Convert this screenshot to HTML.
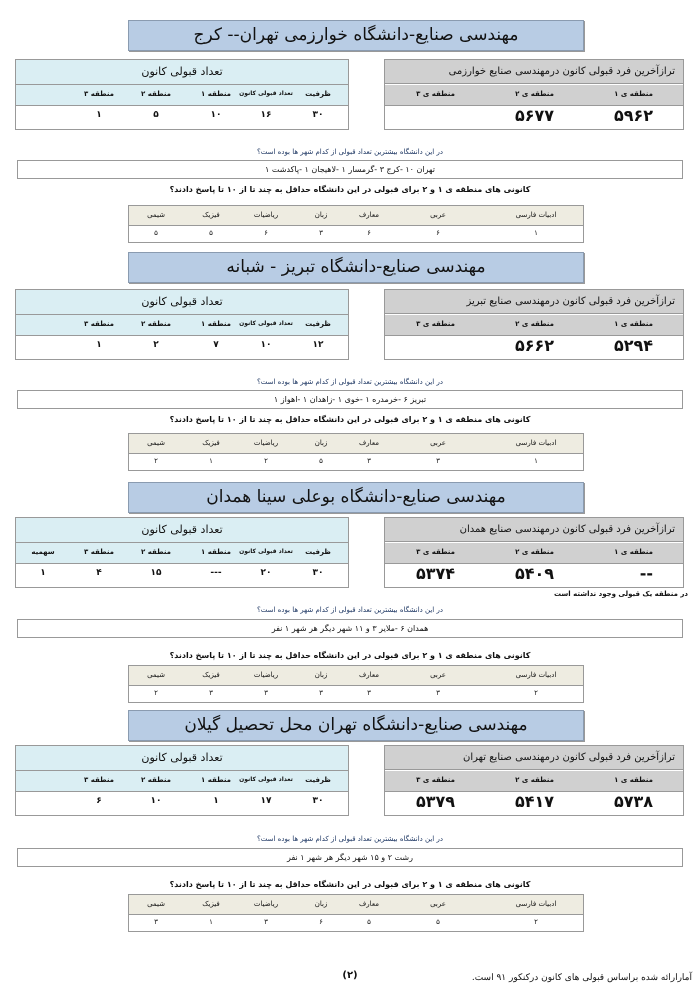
<!DOCTYPE html>
<html><head><meta charset="utf-8"><style>
body{margin:0;width:700px;height:991px;background:#fff;position:relative;overflow:hidden;font-family:"DejaVu Sans","Liberation Sans",sans-serif;color:#111}
.a{position:absolute}
.c{position:absolute;transform:translateX(-50%);white-space:nowrap;direction:rtl}
.r{position:absolute;white-space:nowrap;direction:rtl}
.title{position:absolute;left:128px;width:454px;height:29px;background:#b8cce4;border:1px solid #8a9bb0;box-shadow:1px 1px 0 #999;text-align:center;font-size:17px;line-height:29px;direction:rtl}
.lt{position:absolute;left:15px;width:332px;height:69px;border:1px solid #999;background:#fff}
.rt{position:absolute;left:384px;width:298px;height:69px;border:1px solid #999;background:#fff}
.st{position:absolute;left:128px;width:454px;height:36px;border:1px solid #999;background:#fff}
.box{position:absolute;left:17px;width:664px;height:17px;border:1px solid #999;background:#fff;text-align:center;font-size:8px;line-height:17px;direction:rtl}
.q1{position:absolute;left:0;width:700px;text-align:center;font-size:7px;color:#1f3864;direction:rtl}
.q2{position:absolute;left:0;width:700px;text-align:center;font-size:8px;font-weight:bold;direction:rtl}
.h{font-size:7px;font-weight:bold}
.v{font-size:9px;font-weight:bold}
.big{font-size:16px;font-weight:bold}
.s{font-size:7px}
</style></head><body>

<!-- BLOCK TEMPLATE rendered 4 times -->
<!-- Block 1 T=20 -->
<div class="title" style="top:20px">مهندسی صنایع-دانشگاه خوارزمی تهران-- کرج</div>
<div class="lt" style="top:59px"><div class="a" style="left:0;top:0;width:332px;height:24px;background:#daeef3;border-bottom:1px solid #999;text-align:center;font-size:11px;line-height:24px">تعداد قبولی کانون</div><div class="a" style="left:0;top:25px;width:332px;height:20px;background:#daeef3;border-bottom:1px solid #999"></div>
<span class="c h" style="left:302px;top:30px">ظرفیت</span><span class="c h" style="left:250px;top:30px;font-size:6px">تعداد قبولی کانون</span><span class="c h" style="left:200px;top:30px">منطقه ۱</span><span class="c h" style="left:140px;top:30px">منطقه ۲</span><span class="c h" style="left:83px;top:30px">منطقه ۳</span>
<span class="c v" style="left:302px;top:50px">۳۰</span><span class="c v" style="left:250px;top:50px">۱۶</span><span class="c v" style="left:200px;top:50px">۱۰</span><span class="c v" style="left:140px;top:50px">۵</span><span class="c v" style="left:83px;top:50px">۱</span></div>
<div class="rt" style="top:59px"><div class="a" style="left:0;top:0;width:298px;height:24px;background:#d0d0d0;border-bottom:1px solid #999;text-align:right;padding-right:8px;box-sizing:border-box;font-size:10px;line-height:24px;direction:rtl">ترازآخرین فرد قبولی کانون درمهندسی صنایع خوارزمی</div><div class="a" style="left:0;top:25px;width:298px;height:20px;background:#d0d0d0;border-bottom:1px solid #999"></div>
<span class="r h" style="right:30px;top:30px">منطقه ی ۱</span><span class="r h" style="right:129px;top:30px">منطقه ی ۲</span><span class="r h" style="right:228px;top:30px">منطقه ی ۳</span>
<span class="r big" style="right:30px;top:46px">۵۹۶۲</span><span class="r big" style="right:129px;top:46px">۵۶۷۷</span></div>
<div class="q1" style="top:148px">در این دانشگاه بیشترین تعداد قبولی از کدام شهر ها بوده است؟</div>
<div class="box" style="top:160px">تهران ۱۰ -کرج ۳ -گرمسار ۱ -لاهیجان ۱ -پاکدشت ۱</div>
<div class="q2" style="top:185px">کانونی های منطقه ی ۱ و ۲ برای قبولی در این دانشگاه حداقل به چند تا از ۱۰ تا پاسخ دادند؟</div>
<div class="st" style="top:205px"><div class="a" style="left:0;top:0;width:454px;height:19px;background:#eeece1;border-bottom:1px solid #999"></div>
<span class="c s" style="left:407px;top:5px">ادبیات فارسی</span><span class="c s" style="left:309px;top:5px">عربی</span><span class="c s" style="left:240px;top:5px">معارف</span><span class="c s" style="left:192px;top:5px">زبان</span><span class="c s" style="left:137px;top:5px">ریاضیات</span><span class="c s" style="left:82px;top:5px">فیزیک</span><span class="c s" style="left:27px;top:5px">شیمی</span>
<span class="c s" style="left:407px;top:23px">۱</span><span class="c s" style="left:309px;top:23px">۶</span><span class="c s" style="left:240px;top:23px">۶</span><span class="c s" style="left:192px;top:23px">۳</span><span class="c s" style="left:137px;top:23px">۶</span><span class="c s" style="left:82px;top:23px">۵</span><span class="c s" style="left:27px;top:23px">۵</span></div>

<!-- Block 2 T=252 -->
<div class="title" style="top:252px">مهندسی صنایع-دانشگاه تبریز - شبانه</div>
<div class="lt" style="top:289px"><div class="a" style="left:0;top:0;width:332px;height:24px;background:#daeef3;border-bottom:1px solid #999;text-align:center;font-size:11px;line-height:24px">تعداد قبولی کانون</div><div class="a" style="left:0;top:25px;width:332px;height:20px;background:#daeef3;border-bottom:1px solid #999"></div>
<span class="c h" style="left:302px;top:30px">ظرفیت</span><span class="c h" style="left:250px;top:30px;font-size:6px">تعداد قبولی کانون</span><span class="c h" style="left:200px;top:30px">منطقه ۱</span><span class="c h" style="left:140px;top:30px">منطقه ۲</span><span class="c h" style="left:83px;top:30px">منطقه ۳</span>
<span class="c v" style="left:302px;top:50px">۱۲</span><span class="c v" style="left:250px;top:50px">۱۰</span><span class="c v" style="left:200px;top:50px">۷</span><span class="c v" style="left:140px;top:50px">۲</span><span class="c v" style="left:83px;top:50px">۱</span></div>
<div class="rt" style="top:289px"><div class="a" style="left:0;top:0;width:298px;height:24px;background:#d0d0d0;border-bottom:1px solid #999;text-align:right;padding-right:8px;box-sizing:border-box;font-size:10px;line-height:24px;direction:rtl">ترازآخرین فرد قبولی کانون درمهندسی صنایع تبریز</div><div class="a" style="left:0;top:25px;width:298px;height:20px;background:#d0d0d0;border-bottom:1px solid #999"></div>
<span class="r h" style="right:30px;top:30px">منطقه ی ۱</span><span class="r h" style="right:129px;top:30px">منطقه ی ۲</span><span class="r h" style="right:228px;top:30px">منطقه ی ۳</span>
<span class="r big" style="right:30px;top:46px">۵۲۹۴</span><span class="r big" style="right:129px;top:46px">۵۶۶۲</span></div>
<div class="q1" style="top:378px">در این دانشگاه بیشترین تعداد قبولی از کدام شهر ها بوده است؟</div>
<div class="box" style="top:390px">تبریز ۶ -خرمدره ۱ -خوی ۱ -زاهدان ۱ -اهواز ۱</div>
<div class="q2" style="top:415px">کانونی های منطقه ی ۱ و ۲ برای قبولی در این دانشگاه حداقل به چند تا از ۱۰ تا پاسخ دادند؟</div>
<div class="st" style="top:433px"><div class="a" style="left:0;top:0;width:454px;height:19px;background:#eeece1;border-bottom:1px solid #999"></div>
<span class="c s" style="left:407px;top:5px">ادبیات فارسی</span><span class="c s" style="left:309px;top:5px">عربی</span><span class="c s" style="left:240px;top:5px">معارف</span><span class="c s" style="left:192px;top:5px">زبان</span><span class="c s" style="left:137px;top:5px">ریاضیات</span><span class="c s" style="left:82px;top:5px">فیزیک</span><span class="c s" style="left:27px;top:5px">شیمی</span>
<span class="c s" style="left:407px;top:23px">۱</span><span class="c s" style="left:309px;top:23px">۳</span><span class="c s" style="left:240px;top:23px">۳</span><span class="c s" style="left:192px;top:23px">۵</span><span class="c s" style="left:137px;top:23px">۲</span><span class="c s" style="left:82px;top:23px">۱</span><span class="c s" style="left:27px;top:23px">۲</span></div>

<!-- Block 3 T=482 -->
<div class="title" style="top:482px">مهندسی صنایع-دانشگاه بوعلی سینا  همدان</div>
<div class="lt" style="top:517px"><div class="a" style="left:0;top:0;width:332px;height:24px;background:#daeef3;border-bottom:1px solid #999;text-align:center;font-size:11px;line-height:24px">تعداد قبولی کانون</div><div class="a" style="left:0;top:25px;width:332px;height:20px;background:#daeef3;border-bottom:1px solid #999"></div>
<span class="c h" style="left:302px;top:30px">ظرفیت</span><span class="c h" style="left:250px;top:30px;font-size:6px">تعداد قبولی کانون</span><span class="c h" style="left:200px;top:30px">منطقه ۱</span><span class="c h" style="left:140px;top:30px">منطقه ۲</span><span class="c h" style="left:83px;top:30px">منطقه ۳</span><span class="c h" style="left:27px;top:30px">سهمیه</span>
<span class="c v" style="left:302px;top:50px">۳۰</span><span class="c v" style="left:250px;top:50px">۲۰</span><span class="c v" style="left:200px;top:50px">---</span><span class="c v" style="left:140px;top:50px">۱۵</span><span class="c v" style="left:83px;top:50px">۴</span><span class="c v" style="left:27px;top:50px">۱</span></div>
<div class="rt" style="top:517px"><div class="a" style="left:0;top:0;width:298px;height:24px;background:#d0d0d0;border-bottom:1px solid #999;text-align:right;padding-right:8px;box-sizing:border-box;font-size:10px;line-height:24px;direction:rtl">ترازآخرین فرد قبولی کانون درمهندسی صنایع همدان</div><div class="a" style="left:0;top:25px;width:298px;height:20px;background:#d0d0d0;border-bottom:1px solid #999"></div>
<span class="r h" style="right:30px;top:30px">منطقه ی ۱</span><span class="r h" style="right:129px;top:30px">منطقه ی ۲</span><span class="r h" style="right:228px;top:30px">منطقه ی ۳</span>
<span class="r big" style="right:30px;top:46px">--</span><span class="r big" style="right:129px;top:46px">۵۴۰۹</span><span class="r big" style="right:228px;top:46px">۵۳۷۴</span></div>
<div class="r" style="right:12px;top:590px;font-size:7px;font-weight:bold">در منطقه یک قبولی وجود نداشته است</div>
<div class="q1" style="top:606px">در این دانشگاه بیشترین تعداد قبولی از کدام شهر ها بوده است؟</div>
<div class="box" style="top:619px">همدان ۶ -ملایر ۳ و ۱۱ شهر دیگر هر شهر ۱ نفر</div>
<div class="q2" style="top:651px">کانونی های منطقه ی ۱ و ۲ برای قبولی در این دانشگاه حداقل به چند تا از ۱۰ تا پاسخ دادند؟</div>
<div class="st" style="top:665px"><div class="a" style="left:0;top:0;width:454px;height:19px;background:#eeece1;border-bottom:1px solid #999"></div>
<span class="c s" style="left:407px;top:5px">ادبیات فارسی</span><span class="c s" style="left:309px;top:5px">عربی</span><span class="c s" style="left:240px;top:5px">معارف</span><span class="c s" style="left:192px;top:5px">زبان</span><span class="c s" style="left:137px;top:5px">ریاضیات</span><span class="c s" style="left:82px;top:5px">فیزیک</span><span class="c s" style="left:27px;top:5px">شیمی</span>
<span class="c s" style="left:407px;top:23px">۲</span><span class="c s" style="left:309px;top:23px">۳</span><span class="c s" style="left:240px;top:23px">۳</span><span class="c s" style="left:192px;top:23px">۳</span><span class="c s" style="left:137px;top:23px">۳</span><span class="c s" style="left:82px;top:23px">۳</span><span class="c s" style="left:27px;top:23px">۲</span></div>

<!-- Block 4 T=710 -->
<div class="title" style="top:710px">مهندسی صنایع-دانشگاه تهران محل تحصیل گیلان</div>
<div class="lt" style="top:745px"><div class="a" style="left:0;top:0;width:332px;height:24px;background:#daeef3;border-bottom:1px solid #999;text-align:center;font-size:11px;line-height:24px">تعداد قبولی کانون</div><div class="a" style="left:0;top:25px;width:332px;height:20px;background:#daeef3;border-bottom:1px solid #999"></div>
<span class="c h" style="left:302px;top:30px">ظرفیت</span><span class="c h" style="left:250px;top:30px;font-size:6px">تعداد قبولی کانون</span><span class="c h" style="left:200px;top:30px">منطقه ۱</span><span class="c h" style="left:140px;top:30px">منطقه ۲</span><span class="c h" style="left:83px;top:30px">منطقه ۳</span>
<span class="c v" style="left:302px;top:50px">۳۰</span><span class="c v" style="left:250px;top:50px">۱۷</span><span class="c v" style="left:200px;top:50px">۱</span><span class="c v" style="left:140px;top:50px">۱۰</span><span class="c v" style="left:83px;top:50px">۶</span></div>
<div class="rt" style="top:745px"><div class="a" style="left:0;top:0;width:298px;height:24px;background:#d0d0d0;border-bottom:1px solid #999;text-align:right;padding-right:8px;box-sizing:border-box;font-size:10px;line-height:24px;direction:rtl">ترازآخرین فرد قبولی کانون درمهندسی صنایع تهران</div><div class="a" style="left:0;top:25px;width:298px;height:20px;background:#d0d0d0;border-bottom:1px solid #999"></div>
<span class="r h" style="right:30px;top:30px">منطقه ی ۱</span><span class="r h" style="right:129px;top:30px">منطقه ی ۲</span><span class="r h" style="right:228px;top:30px">منطقه ی ۳</span>
<span class="r big" style="right:30px;top:46px">۵۷۳۸</span><span class="r big" style="right:129px;top:46px">۵۴۱۷</span><span class="r big" style="right:228px;top:46px">۵۳۷۹</span></div>
<div class="q1" style="top:835px">در این دانشگاه بیشترین تعداد قبولی از کدام شهر ها بوده است؟</div>
<div class="box" style="top:848px">رشت ۲ و ۱۵ شهر دیگر هر شهر ۱ نفر</div>
<div class="q2" style="top:880px">کانونی های منطقه ی ۱ و ۲ برای قبولی در این دانشگاه حداقل به چند تا از ۱۰ تا پاسخ دادند؟</div>
<div class="st" style="top:894px"><div class="a" style="left:0;top:0;width:454px;height:19px;background:#eeece1;border-bottom:1px solid #999"></div>
<span class="c s" style="left:407px;top:5px">ادبیات فارسی</span><span class="c s" style="left:309px;top:5px">عربی</span><span class="c s" style="left:240px;top:5px">معارف</span><span class="c s" style="left:192px;top:5px">زبان</span><span class="c s" style="left:137px;top:5px">ریاضیات</span><span class="c s" style="left:82px;top:5px">فیزیک</span><span class="c s" style="left:27px;top:5px">شیمی</span>
<span class="c s" style="left:407px;top:23px">۲</span><span class="c s" style="left:309px;top:23px">۵</span><span class="c s" style="left:240px;top:23px">۵</span><span class="c s" style="left:192px;top:23px">۶</span><span class="c s" style="left:137px;top:23px">۳</span><span class="c s" style="left:82px;top:23px">۱</span><span class="c s" style="left:27px;top:23px">۳</span></div>

<div class="c" style="left:350px;top:970px;font-size:10px;font-weight:bold">(۲)</div>
<div class="r" style="right:8px;top:973px;font-size:9px;font-family:'DejaVu Serif','Liberation Serif',serif">آمارارائه شده براساس قبولی های کانون درکنکور ۹۱ است.</div>
</body></html>
